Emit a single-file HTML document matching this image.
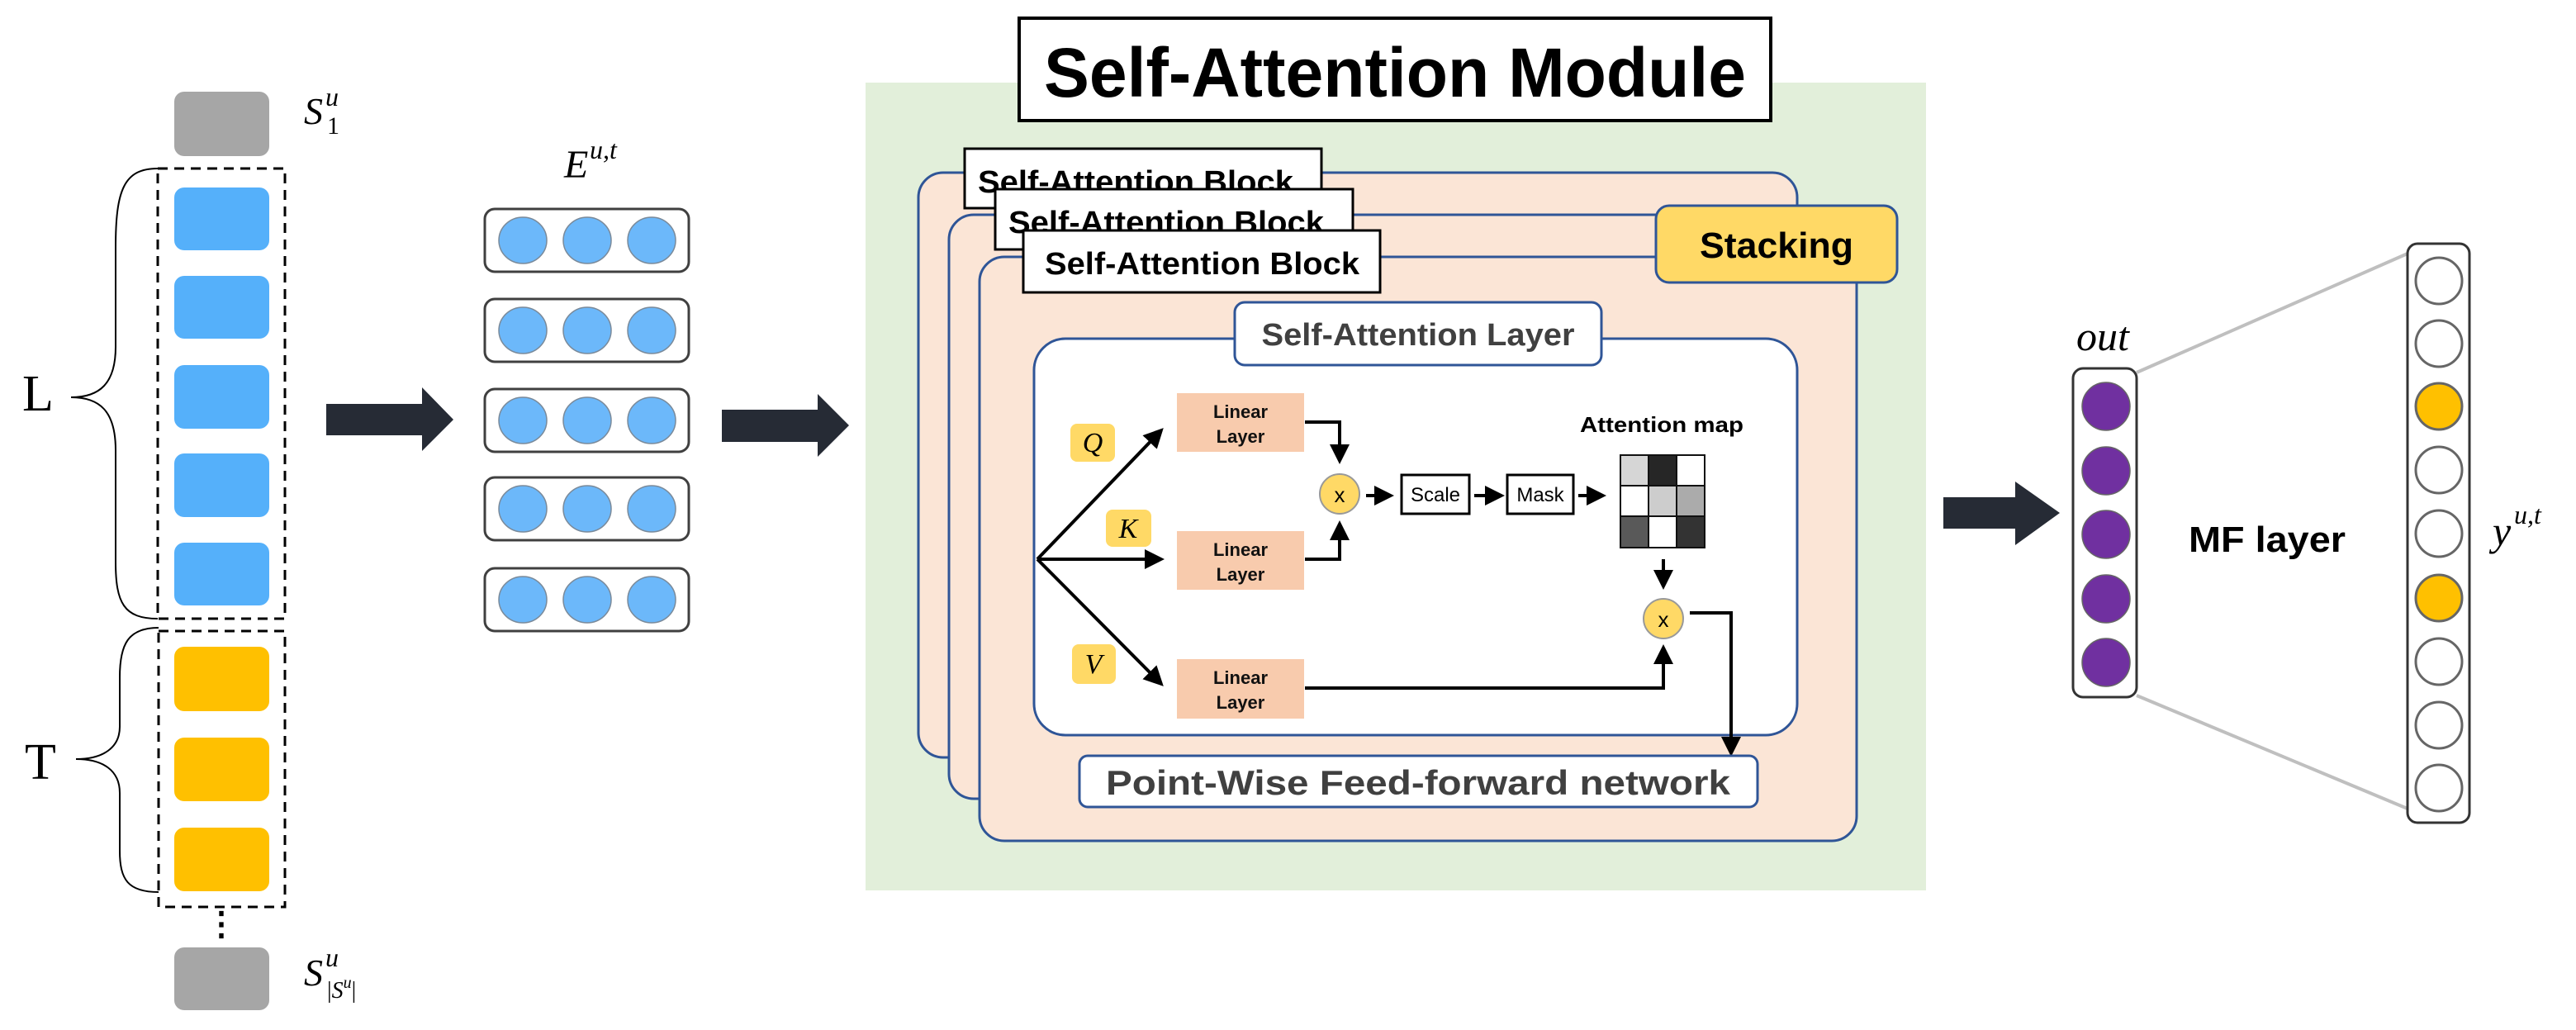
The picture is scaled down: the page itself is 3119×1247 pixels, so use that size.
<!DOCTYPE html>
<html><head><meta charset="utf-8"><style>html,body{margin:0;padding:0;background:#fff}svg{display:block}</style></head><body>
<svg width="3119" height="1247" viewBox="0 0 3119 1247" xmlns="http://www.w3.org/2000/svg" font-family="Liberation Sans, sans-serif">
<defs>
<marker id="ah" markerWidth="6" markerHeight="6" refX="5" refY="3" orient="auto" markerUnits="strokeWidth"><path d="M0,0 L6,3 L0,6 z" fill="#000"/></marker>
</defs>
<!-- left column -->
<rect x="211" y="111" width="115" height="78" rx="12" fill="#A6A6A6"/>
<text x="368" y="150" font-family="Liberation Serif, serif" font-style="italic" font-size="46">S</text>
<text x="396" y="162" font-family="Liberation Serif, serif" font-size="30">1</text>
<text x="394" y="128" font-family="Liberation Serif, serif" font-style="italic" font-size="32">u</text>
<rect x="191" y="204" width="154" height="545" fill="none" stroke="#000" stroke-width="3" stroke-dasharray="12,8"/>
<g fill="#55B0FA">
<rect x="211" y="227" width="115" height="76" rx="12"/>
<rect x="211" y="334" width="115" height="76" rx="12"/>
<rect x="211" y="442" width="115" height="77" rx="12"/>
<rect x="211" y="549" width="115" height="77" rx="12"/>
<rect x="211" y="657" width="115" height="76" rx="12"/>
</g>
<rect x="192" y="764" width="153" height="334" fill="none" stroke="#000" stroke-width="3" stroke-dasharray="12,8"/>
<g fill="#FFC000">
<rect x="211" y="783" width="115" height="78" rx="12"/>
<rect x="211" y="893" width="115" height="77" rx="12"/>
<rect x="211" y="1002" width="115" height="77" rx="12"/>
</g>
<text x="268" y="1132" font-size="40" text-anchor="middle" font-weight="bold">⋮</text>
<rect x="211" y="1147" width="115" height="76" rx="12" fill="#A6A6A6"/>
<text x="368" y="1193" font-family="Liberation Serif, serif" font-style="italic" font-size="46">S</text>
<text x="394" y="1170" font-family="Liberation Serif, serif" font-style="italic" font-size="32">u</text>
<text x="396" y="1208" font-family="Liberation Serif, serif" font-size="28">|<tspan font-style="italic">S</tspan><tspan font-style="italic" font-size="20" dy="-12">u</tspan><tspan dy="12">|</tspan></text>
<path d="M191,204 C150,204 140,230 140,300 L140,420 C140,465 120,481 86,481 C120,481 140,497 140,545 L140,680 C140,730 150,749 191,749" fill="none" stroke="#000" stroke-width="2"/>
<path d="M192,760 C155,760 145,780 145,820 L145,880 C145,905 125,919 92,919 C125,919 145,933 145,960 L145,1030 C145,1065 155,1080 192,1080" fill="none" stroke="#000" stroke-width="2"/>
<text x="27" y="497" font-family="Liberation Serif, serif" font-size="62">L</text>
<text x="30" y="943" font-family="Liberation Serif, serif" font-size="62">T</text>
<!-- arrow 1 -->
<path d="M395,489 L511,489 L511,469 L549,508 L511,546 L511,527 L395,527 z" fill="#262B35"/>
<!-- E vectors -->
<text x="683" y="215" font-family="Liberation Serif, serif" font-style="italic" font-size="48">E</text>
<text x="714" y="192" font-family="Liberation Serif, serif" font-style="italic" font-size="32">u,t</text>
<g stroke="#404040" stroke-width="3" fill="#fff">
<rect x="587" y="253" width="247" height="76" rx="12"/>
<rect x="587" y="362" width="247" height="76" rx="12"/>
<rect x="587" y="471" width="247" height="76" rx="12"/>
<rect x="587" y="578" width="247" height="76" rx="12"/>
<rect x="587" y="688" width="247" height="76" rx="12"/>
</g>
<g fill="#6CB8FA" stroke="#7a8a9a" stroke-width="1.5">
<ellipse cx="633" cy="291" rx="29" ry="28"/><ellipse cx="711" cy="291" rx="29" ry="28"/><ellipse cx="789" cy="291" rx="29" ry="28"/>
<ellipse cx="633" cy="400" rx="29" ry="28"/><ellipse cx="711" cy="400" rx="29" ry="28"/><ellipse cx="789" cy="400" rx="29" ry="28"/>
<ellipse cx="633" cy="509" rx="29" ry="28"/><ellipse cx="711" cy="509" rx="29" ry="28"/><ellipse cx="789" cy="509" rx="29" ry="28"/>
<ellipse cx="633" cy="616" rx="29" ry="28"/><ellipse cx="711" cy="616" rx="29" ry="28"/><ellipse cx="789" cy="616" rx="29" ry="28"/>
<ellipse cx="633" cy="726" rx="29" ry="28"/><ellipse cx="711" cy="726" rx="29" ry="28"/><ellipse cx="789" cy="726" rx="29" ry="28"/>
</g>
<!-- arrow 2 -->
<path d="M874,496 L990,496 L990,477 L1028,515 L990,553 L990,535 L874,535 z" fill="#262B35"/>
<!-- green module -->
<rect x="1048" y="100" width="1284" height="978" fill="#E2EFDA"/>
<rect x="1234" y="22" width="910" height="124" fill="#fff" stroke="#000" stroke-width="4"/>
<text x="1689" y="117" font-size="84" font-weight="bold" text-anchor="middle" textLength="850" lengthAdjust="spacingAndGlyphs">Self-Attention Module</text>
<!-- blocks -->
<g fill="#FBE5D6" stroke="#2F5597" stroke-width="3">
<rect x="1112" y="209" width="1064" height="708" rx="30"/>
<rect x="1149" y="260" width="1063" height="707" rx="30"/>
<rect x="1186" y="311" width="1062" height="707" rx="30"/>
</g>
<g fill="#fff" stroke="#000" stroke-width="3">
<rect x="1168" y="180" width="432" height="72"/>
</g>
<text x="1184" y="233" font-size="38" font-weight="bold" textLength="382" lengthAdjust="spacingAndGlyphs">Self-Attention Block</text>
<rect x="1205" y="229" width="433" height="73" fill="#fff" stroke="#000" stroke-width="3"/>
<text x="1221" y="282" font-size="38" font-weight="bold" textLength="382" lengthAdjust="spacingAndGlyphs">Self-Attention Block</text>
<rect x="1239" y="279" width="432" height="75" fill="#fff" stroke="#000" stroke-width="3"/>
<text x="1265" y="332" font-size="38" font-weight="bold" textLength="381" lengthAdjust="spacingAndGlyphs">Self-Attention Block</text>
<rect x="2005" y="249" width="292" height="93" rx="16" fill="#FFD966" stroke="#2F5597" stroke-width="3"/>
<text x="2151" y="312" font-size="44" font-weight="bold" text-anchor="middle" textLength="186" lengthAdjust="spacingAndGlyphs">Stacking</text>
<!-- inner layer -->
<rect x="1252" y="410" width="924" height="480" rx="38" fill="#fff" stroke="#2F5597" stroke-width="3"/>
<rect x="1495" y="366" width="444" height="76" rx="12" fill="#fff" stroke="#2F5597" stroke-width="3"/>
<text x="1717" y="418" font-size="38" font-weight="bold" fill="#404040" text-anchor="middle" textLength="379" lengthAdjust="spacingAndGlyphs">Self-Attention Layer</text>
<g fill="#F8CBAD">
<rect x="1425" y="476" width="154" height="71"/>
<rect x="1425" y="643" width="154" height="71"/>
<rect x="1425" y="798" width="154" height="72"/>
</g>
<g font-size="22" font-weight="bold" text-anchor="middle" fill="#111">
<text x="1502" y="506">Linear</text><text x="1502" y="536">Layer</text>
<text x="1502" y="673">Linear</text><text x="1502" y="703">Layer</text>
<text x="1502" y="828">Linear</text><text x="1502" y="858">Layer</text>
</g>
<g fill="#FFD966">
<rect x="1296" y="513" width="54" height="46" rx="8"/>
<rect x="1339" y="617" width="55" height="45" rx="8"/>
<rect x="1298" y="780" width="53" height="48" rx="8"/>
</g>
<g font-family="Liberation Serif, serif" font-style="italic" font-size="34" text-anchor="middle">
<text x="1323" y="547">Q</text><text x="1366" y="651">K</text><text x="1324" y="815">V</text>
</g>
<g stroke="#000" stroke-width="4" fill="none" marker-end="url(#ah)">
<line x1="1256" y1="677" x2="1406" y2="521"/>
<line x1="1256" y1="677" x2="1406" y2="677"/>
<line x1="1256" y1="677" x2="1406" y2="828"/>
<polyline points="1580,511 1622,511 1622,558"/>
<polyline points="1580,677 1622,677 1622,634"/>
<line x1="1654" y1="600" x2="1684" y2="600"/>
<line x1="1785" y1="600" x2="1818" y2="600"/>
<line x1="1911" y1="600" x2="1941" y2="600"/>
<line x1="2014" y1="677" x2="2014" y2="710"/>
<polyline points="1580,833 2014,833 2014,784"/>
<polyline points="2046,742 2096,742 2096,912"/>
</g>
<circle cx="1622" cy="598" r="24" fill="#FFD966" stroke="#999" stroke-width="2"/>
<text x="1622" y="608" font-size="26" text-anchor="middle">x</text>
<circle cx="2014" cy="749" r="24" fill="#FFD966" stroke="#999" stroke-width="2"/>
<text x="2014" y="759" font-size="26" text-anchor="middle">x</text>
<rect x="1697" y="575" width="82" height="47" fill="#fff" stroke="#000" stroke-width="3"/>
<text x="1738" y="607" font-size="24" text-anchor="middle">Scale</text>
<rect x="1825" y="575" width="80" height="47" fill="#fff" stroke="#000" stroke-width="3"/>
<text x="1865" y="607" font-size="24" text-anchor="middle">Mask</text>
<text x="2012" y="523" font-size="26" font-weight="bold" text-anchor="middle" textLength="198" lengthAdjust="spacingAndGlyphs">Attention map</text>
<g stroke="#111" stroke-width="2">
<rect x="1962" y="551" width="34" height="37" fill="#D6D6D6"/>
<rect x="1996" y="551" width="34" height="37" fill="#262626"/>
<rect x="2030" y="551" width="34" height="37" fill="#fff"/>
<rect x="1962" y="588" width="34" height="37" fill="#fff"/>
<rect x="1996" y="588" width="34" height="37" fill="#CDCDCD"/>
<rect x="2030" y="588" width="34" height="37" fill="#ABABAB"/>
<rect x="1962" y="625" width="34" height="38" fill="#595959"/>
<rect x="1996" y="625" width="34" height="38" fill="#fff"/>
<rect x="2030" y="625" width="34" height="38" fill="#333"/>
</g>
<rect x="1307" y="915" width="821" height="62" rx="10" fill="#fff" stroke="#2F5597" stroke-width="3"/>
<text x="1717" y="962" font-size="42" font-weight="bold" fill="#404040" text-anchor="middle" textLength="756" lengthAdjust="spacingAndGlyphs">Point-Wise Feed-forward network</text>
<!-- arrow 3 -->
<path d="M2353,602 L2440,602 L2440,583 L2494,621 L2440,660 L2440,640 L2353,640 z" fill="#262B35"/>
<!-- out -->
<line x1="2587" y1="451" x2="2915" y2="307" stroke="#BFBFBF" stroke-width="4"/>
<line x1="2587" y1="842" x2="2915" y2="979" stroke="#BFBFBF" stroke-width="4"/>
<text x="2514" y="424" font-family="Liberation Serif, serif" font-style="italic" font-size="50">out</text>
<rect x="2510" y="446" width="77" height="398" rx="12" fill="#fff" stroke="#333" stroke-width="3"/>
<g fill="#7030A0" stroke="#666" stroke-width="1.5">
<circle cx="2550" cy="492" r="29"/><circle cx="2550" cy="570" r="29"/><circle cx="2550" cy="647" r="29"/><circle cx="2550" cy="725" r="29"/><circle cx="2550" cy="802" r="29"/>
</g>
<text x="2650" y="668" font-size="44" font-weight="bold" textLength="190" lengthAdjust="spacingAndGlyphs">MF layer</text>
<rect x="2915" y="295" width="75" height="701" rx="12" fill="#fff" stroke="#333" stroke-width="3"/>
<g fill="#fff" stroke="#666" stroke-width="3">
<circle cx="2953" cy="340" r="28"/><circle cx="2953" cy="416" r="28"/><circle cx="2953" cy="492" r="28" fill="#FFC000"/><circle cx="2953" cy="569" r="28"/><circle cx="2953" cy="646" r="28"/><circle cx="2953" cy="724" r="28" fill="#FFC000"/><circle cx="2953" cy="801" r="28"/><circle cx="2953" cy="878" r="28"/><circle cx="2953" cy="954" r="28"/>
</g>
<text x="3018" y="660" font-family="Liberation Serif, serif" font-style="italic" font-size="50">y</text>
<text x="3044" y="634" font-family="Liberation Serif, serif" font-style="italic" font-size="32">u,t</text>
</svg>
</body></html>
